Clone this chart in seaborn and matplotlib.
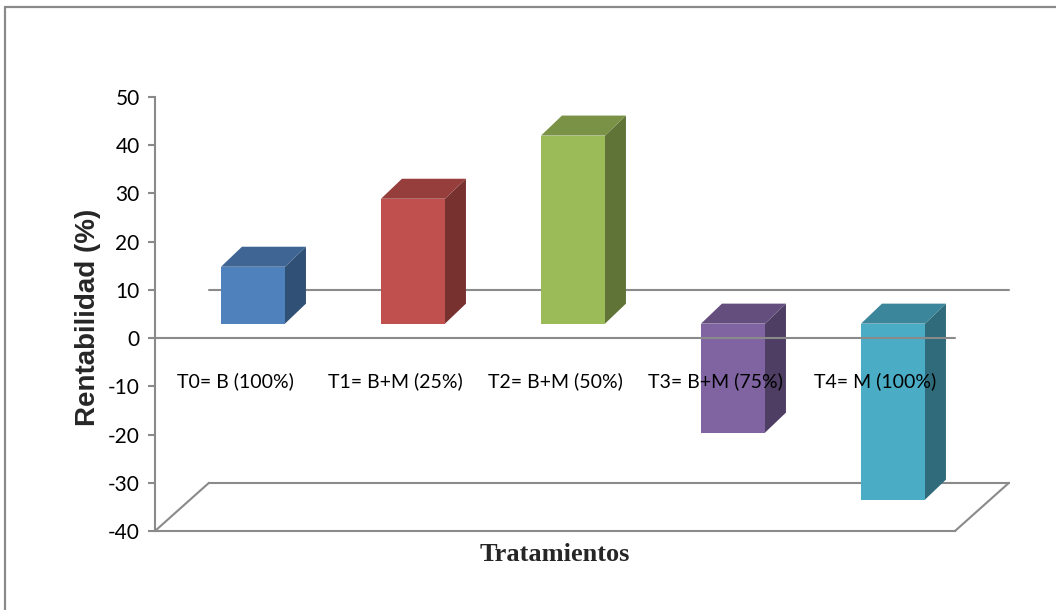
import matplotlib
matplotlib.use("Agg")
import matplotlib.pyplot as plt
import seaborn as sns
from matplotlib.patches import Polygon
from matplotlib.lines import Line2D
from matplotlib.colors import to_rgb

# --- data -------------------------------------------------------------
tratamientos = ["T0= B (100%)", "T1= B+M (25%)", "T2= B+M (50%)",
                "T3= B+M (75%)", "T4= M (100%)"]
rentabilidad = [11.8, 25.9, 39.0, -22.6, -36.5]
colores = ["#4F81BD", "#C0504D", "#9BBB59", "#8064A2", "#4BACC6"]
y_ticks = [-40, -30, -20, -10, 0, 10, 20, 30, 40, 50]

# --- style ------------------------------------------------------------
sns.set_theme(style="white")
plt.rcParams["font.family"] = ["Lato", "DejaVu Sans"]
GRIS = "#8a8a8a"

W, H = 1056, 610
fig = plt.figure(figsize=(W / 100, H / 100), dpi=100)
fig.patch.set_facecolor("white")
ax = fig.add_axes([155 / W, 1 - 531 / H, 800 / W, 434 / H])

# oblique projection of the 3-D box (data units)
DEPTH_X, DEPTH_Y = 0.3375, 10.0      # full floor depth
FACE_X, FACE_Y = 0.1125, 3.0         # where the bar front faces sit
BAR_DX, BAR_DY = 0.131, 4.15         # thickness of each bar

sns.barplot(x=tratamientos, y=rentabilidad, hue=tratamientos,
            palette=colores, order=tratamientos, hue_order=tratamientos,
            width=0.4, saturation=1, legend=False, linewidth=0,
            zorder=3, ax=ax)

ax.set_xlim(-0.5, 4.5)
ax.set_ylim(-40, 50)


def shade(c, k):
    r, g, b = to_rgb(c)
    return (r * k, g * k, b * k)


# move front faces into the depth plane and add top / side faces
for patch, color in zip(ax.patches, colores):
    patch.set_x(patch.get_x() + FACE_X)
    patch.set_y(patch.get_y() + FACE_Y)
    x0 = patch.get_x()
    x1 = x0 + patch.get_width()
    ya = patch.get_y()
    yb = ya + patch.get_height()
    lo, hi = min(ya, yb), max(ya, yb)
    side = Polygon([(x1, lo), (x1 + BAR_DX, lo + BAR_DY),
                    (x1 + BAR_DX, hi + BAR_DY), (x1, hi)],
                   closed=True, facecolor=shade(color, 0.62),
                   edgecolor="none", zorder=3, clip_on=False)
    top = Polygon([(x0, hi), (x1, hi), (x1 + BAR_DX, hi + BAR_DY),
                   (x0 + BAR_DX, hi + BAR_DY)],
                  closed=True, facecolor=shade(color, 0.78),
                  edgecolor="none", zorder=3, clip_on=False)
    ax.add_patch(side)
    ax.add_patch(top)

# back zero line, front zero line and floor
x_lo, x_hi = -0.5, 4.5
y_floor = y_ticks[0]
ax.plot([x_lo + DEPTH_X, x_hi + DEPTH_X], [DEPTH_Y, DEPTH_Y],
        color=GRIS, lw=1.5, zorder=1, clip_on=False)
ax.plot([x_lo, x_hi], [0, 0], color=GRIS, lw=1.5, zorder=4, clip_on=False)
ax.plot([x_lo + DEPTH_X, x_hi + DEPTH_X],
        [y_floor + DEPTH_Y, y_floor + DEPTH_Y],
        color=GRIS, lw=1.5, zorder=1, clip_on=False)
ax.plot([x_lo, x_lo + DEPTH_X], [y_floor, y_floor + DEPTH_Y],
        color=GRIS, lw=1.5, zorder=1, clip_on=False)
ax.plot([x_hi, x_hi + DEPTH_X], [y_floor, y_floor + DEPTH_Y],
        color=GRIS, lw=1.5, zorder=1, clip_on=False)

# category names inside the plot, under the zero line
for i, name in enumerate(tratamientos):
    ax.text(i, -9, name, ha="center", va="center", fontsize=14,
            color="black", zorder=5)

# axes
for s in ("top", "right"):
    ax.spines[s].set_visible(False)
for s in ("left", "bottom"):
    ax.spines[s].set_color(GRIS)
    ax.spines[s].set_linewidth(1.5)
ax.set_xticks([])
ax.set_yticks(y_ticks)
ax.set_yticklabels([str(v) for v in y_ticks])
ax.tick_params(axis="y", direction="out", length=5, width=1.5,
               color=GRIS, labelsize=15, labelcolor="black", pad=6, left=True)
ax.set_facecolor("none")

ax.set_ylabel("Rentabilidad (%)", fontsize=20, fontweight="bold",
              family=["Liberation Sans", "DejaVu Sans"], va="center")
ax.yaxis.set_label_coords(-0.084, 0.493)
ax.set_xlabel("Tratamientos", fontsize=19, fontweight="bold",
              family=["Liberation Serif", "DejaVu Serif"], va="center")
ax.xaxis.set_label_coords(0.5, -0.055)

# outer frame (left and top edges)
fig.add_artist(Line2D([5 / W, 5 / W], [0, 1 - 7 / H],
                      transform=fig.transFigure, color=GRIS, lw=1.6))
fig.add_artist(Line2D([5 / W, 1], [1 - 7 / H, 1 - 7 / H],
                      transform=fig.transFigure, color=GRIS, lw=1.6))

fig.savefig("out.png", dpi=100)
